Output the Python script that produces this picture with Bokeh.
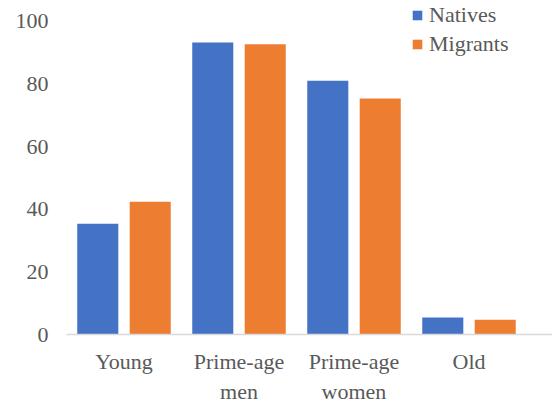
import numpy as np
from bokeh.plotting import figure
from bokeh.models import Range1d, FixedTicker, Legend, LegendItem, ColumnDataSource
from bokeh.embed import file_html
from bokeh.resources import INLINE

categories = ["Young", "Prime-age\nmen", "Prime-age\nwomen", "Old"]
natives = [35.4, 93.3, 81.1, 5.4]
migrants = [42.4, 92.7, 75.4, 4.7]
y_ticks = [0, 20, 40, 60, 80, 100]

FONT = "Liberation Serif"
GREY = "#595959"

xc = np.arange(len(categories)) + 0.5
src = ColumnDataSource(dict(xn=xc - 0.228, xm=xc + 0.228, nat=natives, mig=migrants))

p = figure(width=552, height=406, output_backend="svg", toolbar_location=None,
           x_range=Range1d(0, 4.226), y_range=Range1d(0, 106.7),
           min_border_left=66, min_border_right=0, min_border_top=0, min_border_bottom=72)
p.outline_line_color = None
p.grid.visible = False

r1 = p.vbar(x="xn", top="nat", width=0.357, source=src, fill_color="#4472C4", line_color=None)
r2 = p.vbar(x="xm", top="mig", width=0.357, source=src, fill_color="#ED7D31", line_color=None)

p.xaxis.ticker = FixedTicker(ticks=list(xc))
p.xaxis.major_label_overrides = {float(x): c for x, c in zip(xc, categories)}
p.xaxis.major_tick_line_color = None
p.xaxis.major_tick_out = 0
p.xaxis.major_tick_in = 0
p.xaxis.minor_tick_line_color = None
p.xaxis.axis_line_color = "#D9D9D9"
p.xaxis.axis_line_width = 1.5
p.xaxis.major_label_standoff = 14
p.xaxis.major_label_text_font = FONT
p.xaxis.major_label_text_font_size = "22px"
p.xaxis.major_label_text_color = GREY

p.yaxis.ticker = FixedTicker(ticks=y_ticks)
p.yaxis.axis_line_color = None
p.yaxis.major_tick_line_color = None
p.yaxis.major_tick_out = 0
p.yaxis.major_tick_in = 0
p.yaxis.minor_tick_line_color = None
p.yaxis.major_label_standoff = 18
p.yaxis.major_label_text_font = FONT
p.yaxis.major_label_text_font_size = "22px"
p.yaxis.major_label_text_color = GREY

legend = Legend(items=[LegendItem(label="Natives", renderers=[r1]),
                       LegendItem(label="Migrants", renderers=[r2])],
                location=(345, 277.5), padding=0, margin=0, spacing=3,
                glyph_width=12, glyph_height=12, label_standoff=6,
                label_text_font=FONT, label_text_font_size="22px",
                label_text_color=GREY, background_fill_alpha=0,
                border_line_color=None)
p.add_layout(legend)

open("out.html", "w").write(file_html(p, INLINE))
